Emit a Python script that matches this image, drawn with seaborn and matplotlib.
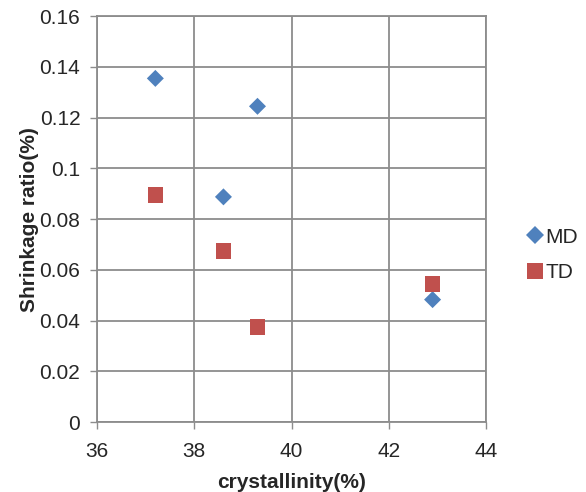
import matplotlib
matplotlib.use("Agg")
import matplotlib.pyplot as plt
import seaborn as sns
import pandas as pd

# Shrinkage ratio vs crystallinity
md_crystallinity = [37.2, 39.3, 38.6, 42.9]
md_shrinkage = [0.1355, 0.1245, 0.0888, 0.0483]
td_crystallinity = [37.2, 38.6, 39.3, 42.9]
td_shrinkage = [0.0895, 0.0675, 0.0376, 0.0545]
x_ticks = [36, 38, 40, 42, 44]
y_ticks = [0, 0.02, 0.04, 0.06, 0.08, 0.1, 0.12, 0.14, 0.16]
y_tick_labels = ["0", "0.02", "0.04", "0.06", "0.08", "0.1", "0.12", "0.14", "0.16"]

df = pd.DataFrame({
    "crystallinity": md_crystallinity + td_crystallinity,
    "shrinkage": md_shrinkage + td_shrinkage,
    "direction": ["MD"] * len(md_shrinkage) + ["TD"] * len(td_shrinkage),
})

sns.set_style("white")
plt.rcParams["font.family"] = ["Liberation Sans", "DejaVu Sans"]

grid_color = "#8c8c8c"

fig = plt.figure(figsize=(5.86, 4.92), dpi=100)
ax = fig.add_axes([0.1655, 0.142, 0.664, 0.825])

sns.scatterplot(
    data=df, x="crystallinity", y="shrinkage",
    hue="direction", style="direction", size="direction",
    palette={"MD": "#4F81BD", "TD": "#C0504D"},
    markers={"MD": "D", "TD": "s"},
    sizes={"MD": 75, "TD": 125}, edgecolor="none", linewidth=0,
    ax=ax, zorder=3,
)

ax.set_xlim(36, 44)
ax.set_ylim(0, 0.16)
ax.set_xticks(x_ticks)
ax.set_yticks(y_ticks)
ax.set_yticklabels(y_tick_labels)
ax.grid(True, color=grid_color, linewidth=1.3)
ax.set_axisbelow(True)
for sp in ax.spines.values():
    sp.set_color(grid_color)
    sp.set_linewidth(1.3)

ax.tick_params(axis="both", which="both", direction="out", length=5, width=1,
               color=grid_color, labelsize=15, bottom=True, left=True)
ax.tick_params(axis="x", pad=9)
ax.tick_params(axis="y", pad=7)
ax.set_xlabel("crystallinity(%)", fontsize=15, fontweight="bold", labelpad=9)
ax.set_ylabel("Shrinkage ratio(%)", fontsize=15, fontweight="bold", labelpad=0)

handles, labels = ax.get_legend_handles_labels()
ax.legend(handles, labels, loc="center left", bbox_to_anchor=(1.045, 0.412),
          frameon=False, fontsize=15, handletextpad=-0.1, labelspacing=0.8,
          handlelength=1.2)

fig.savefig("out.png", dpi=100)
